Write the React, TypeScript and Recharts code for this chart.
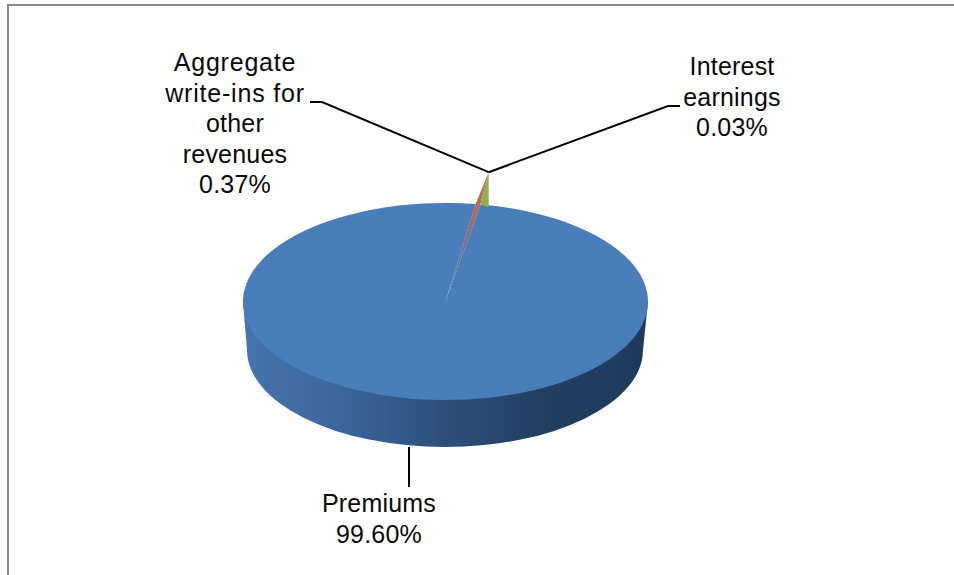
import { Pie, PieChart } from "recharts";

const categories = ["Premiums", "Aggregate write-ins for other revenues", "Interest earnings"];
const shares = [99.6, 0.37, 0.03];
const sliceColors = ["#4a7ebb", "url(#aggregateFade)", "#8fb04f"];

const labelLines = [
  ["Premiums"],
  ["Aggregate", "write-ins for", "other", "revenues"],
  ["Interest", "earnings"],
];

const chartData = categories.map((name, i) => ({ name, value: shares[i], fill: sliceColors[i] }));

// Disc geometry: the pie is flattened to an ellipse and sits on a thick wall
const CX = 445.5;
const CY = 301.5;
const RX = 202.5;
const RY = 98.5;
const WALL_CX = 445;
const WALL_CY = 350;
const WALL_RX = 198;
const WALL_RY = 97;
const START_ANGLE = 80;
// small slices rise above the rim by this factor
const TIP_SCALE = 1.33;

const RAD = Math.PI / 180;

const rimPoint = (angle: number, scale = 1) => ({
  x: CX + RX * scale * Math.cos(angle * RAD),
  y: CY - RY * scale * Math.sin(angle * RAD),
});

const total = shares.reduce((a, b) => a + b, 0);
const tipAngle = START_ANGLE + ((shares[2] + shares[1] / 2) / total) * 360;
const tip = rimPoint(tipAngle, TIP_SCALE);

const pts = (list: { x: number; y: number }[]) => list.map((p) => `${p.x},${p.y}`).join(" ");

function DiscSlice(props: any) {
  const { startAngle, endAngle, fill, index } = props;
  const a = rimPoint(startAngle);
  const b = rimPoint(endAngle);

  if (index === 0) {
    const wall = [
      `M ${CX - RX} ${CY}`,
      `L ${WALL_CX - WALL_RX} ${WALL_CY}`,
      `A ${WALL_RX} ${WALL_RY} 0 0 0 ${WALL_CX + WALL_RX} ${WALL_CY}`,
      `L ${CX + RX} ${CY}`,
      "Z",
    ].join(" ");
    const face = `M ${CX} ${CY} L ${a.x} ${a.y} A ${RX} ${RY} 0 1 1 ${b.x} ${b.y} Z`;
    return (
      <g>
        <path d={wall} fill="url(#wallShade)" />
        <path d={face} fill={fill} />
      </g>
    );
  }

  if (index === 1) {
    const centre = { x: CX, y: CY };
    const rimEnd = rimPoint(START_ANGLE);
    return (
      <g>
        {/* the sliver fades into the face, so it needs the face colour under it */}
        <polygon points={pts([centre, a, b, rimEnd])} fill={sliceColors[0]} />
        <polygon points={pts([centre, a, tip, b])} fill={fill} />
      </g>
    );
  }

  // the thin last slice shows as a lit face between the rim and the tip
  const base = { x: tip.x, y: CY - RY * Math.sqrt(1 - ((tip.x - CX) / RX) ** 2) + 2 };
  return <polygon points={pts([a, tip, base])} fill={fill} />;
}

const leaders = [
  [{ x: 409, y: 447 }, { x: 409, y: 487 }],
  [{ x: 310, y: 102 }, { x: 322, y: 102 }, tip],
  [tip, { x: 668, y: 106 }, { x: 680, y: 106 }],
];
const labelX = [379, 235, 732];
const labelY = [512, 71, 75];
const LINE_STEP = 30.5;

function SliceLabel(props: any) {
  const { index, value } = props;
  const lines = [...labelLines[index], `${value.toFixed(2)}%`];
  return (
    <g>
      <polyline points={pts(leaders[index])} fill="none" stroke="#000" strokeWidth={2} />
      <text
        x={labelX[index]}
        y={labelY[index]}
        textAnchor="middle"
        fontFamily="'Liberation Sans', Arial, sans-serif"
        fontSize={25}
        letterSpacing={0.2}
        fill="#0a0a0a"
      >
        {lines.map((line, i) => (
          <tspan
            key={line}
            x={labelX[index]}
            y={labelY[index] + i * LINE_STEP}
            letterSpacing={line.includes("for") || line === "Aggregate" ? 0.8 : undefined}
          >
            {line}
          </tspan>
        ))}
      </text>
    </g>
  );
}

export default function App() {
  return (
    <div style={{ position: "absolute", left: 0, top: 0, width: 954, height: 575, overflow: "hidden", background: "#fff" }}>
      <div
        style={{
          position: "absolute",
          left: 7,
          top: 4,
          right: -4,
          bottom: -4,
          borderTop: "2px solid #8c8c8c",
          borderLeft: "2px solid #868686",
        }}
      />
      <PieChart width={954} height={575} margin={{ top: 0, right: 0, bottom: 0, left: 0 }} style={{ position: "absolute" }}>
        <defs>
          <linearGradient id="wallShade" gradientUnits="userSpaceOnUse" x1={CX - RX} y1={0} x2={CX + RX} y2={0}>
            <stop offset="0%" stopColor="#4674ad" />
            <stop offset="25%" stopColor="#3a669a" />
            <stop offset="50%" stopColor="#2d4f7a" />
            <stop offset="75%" stopColor="#223f62" />
            <stop offset="100%" stopColor="#1e3a5c" />
          </linearGradient>
          <linearGradient id="aggregateFade" gradientUnits="userSpaceOnUse" x1={CX} y1={CY} x2={tip.x} y2={tip.y}>
            <stop offset="15%" stopColor="#b0655a" stopOpacity={0} />
            <stop offset="45%" stopColor="#b0655a" stopOpacity={0.55} />
            <stop offset="70%" stopColor="#b86a58" stopOpacity={1} />
            <stop offset="100%" stopColor="#b86a58" stopOpacity={1} />
          </linearGradient>
        </defs>
        <Pie
          data={chartData}
          dataKey="value"
          nameKey="name"
          cx={CX}
          cy={CY}
          outerRadius={RX}
          startAngle={START_ANGLE + 360}
          endAngle={START_ANGLE}
          stroke="none"
          shape={DiscSlice}
          label={SliceLabel}
          labelLine={false}
          isAnimationActive={false}
        />
      </PieChart>
    </div>
  );
}
